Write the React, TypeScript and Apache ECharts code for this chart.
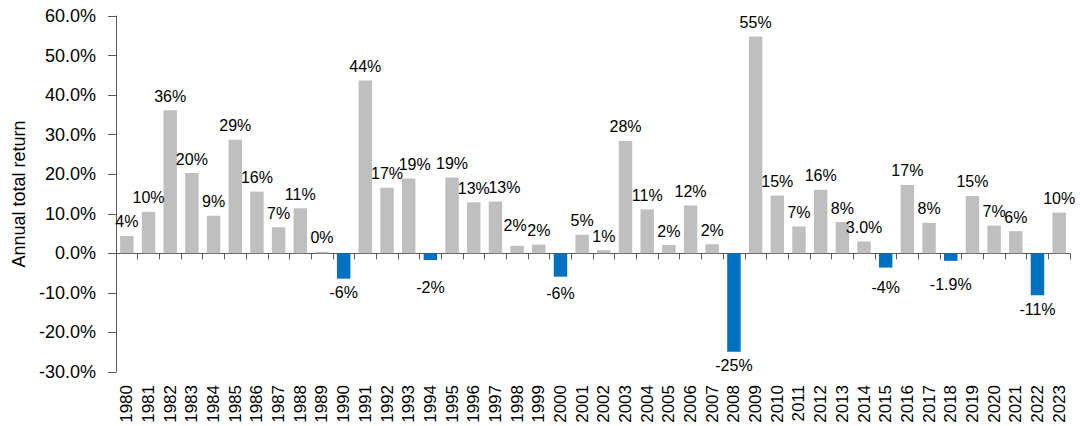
import React, { useEffect, useRef } from "react";
import * as echarts from "echarts";

const years: string[] = [
  "1980", "1981", "1982", "1983", "1984", "1985", "1986", "1987", "1988", "1989",
  "1990", "1991", "1992", "1993", "1994", "1995", "1996", "1997", "1998", "1999",
  "2000", "2001", "2002", "2003", "2004", "2005", "2006", "2007", "2008", "2009",
  "2010", "2011", "2012", "2013", "2014", "2015", "2016", "2017", "2018", "2019",
  "2020", "2021", "2022", "2023",
];

const returns: number[] = [
  4.4, 10.5, 36.2, 20.3, 9.5, 28.7, 15.6, 6.6, 11.4, 0.4,
  -6.4, 43.7, 16.6, 18.9, -1.7, 19.2, 12.9, 13.1, 1.9, 2.2,
  -5.9, 4.7, 0.8, 28.4, 11.1, 2.1, 12.1, 2.3, -24.9, 54.8,
  14.6, 6.8, 16.1, 7.9, 3.0, -3.6, 17.3, 7.7, -1.9, 14.5,
  7.0, 5.6, -10.6, 10.3,
];

const barLabels: string[] = [
  "4%", "10%", "36%", "20%", "9%", "29%", "16%", "7%", "11%", "0%",
  "-6%", "44%", "17%", "19%", "-2%", "19%", "13%", "13%", "2%", "2%",
  "-6%", "5%", "1%", "28%", "11%", "2%", "12%", "2%", "-25%", "55%",
  "15%", "7%", "16%", "8%", "3.0%", "-4%", "17%", "8%", "-1.9%", "15%",
  "7%", "6%", "-11%", "10%",
];

// small manual label nudges [dx, dy] in px, as in the source chart
const labelNudges: Record<string, [number, number]> = {
  "1993": [6, 0],
  "1997": [9, 0],
  "1998": [-2, -6],
  "1994": [0, 13],
  "2015": [0, 6],
  "2018": [0, 10],
  "2000": [0, 3],
};

const yMin = -30;
const yMax = 60;
const yStep = 10;

const FONT = "'Liberation Sans', Arial, sans-serif";
const GRAY = "#BFBFBF";
const BLUE = "#0070C0";
const AXIS = "#595959";

export default function App() {
  const ref = useRef<HTMLDivElement>(null);

  useEffect(() => {
    if (!ref.current) return;
    const chart = echarts.init(ref.current, undefined, { renderer: "svg" });
    const data = returns.map((v, i) => {
      const neg = v < 0;
      const nudge = labelNudges[years[i]] || [0, 0];
      return {
        value: v,
        itemStyle: { color: neg ? BLUE : GRAY },
        label: {
          show: true,
          position: neg ? "bottom" : "top",
          distance: 6,
          offset: nudge,
          formatter: () => barLabels[i],
        },
      };
    });
    chart.setOption({
      animation: false,
      textStyle: { fontFamily: FONT },
      grid: { left: 116, right: 10, top: 16, bottom: 54, containLabel: false },
      xAxis: [
        {
          type: "category",
          data: years,
          position: "bottom",
          axisLine: { show: false, onZero: false },
          axisTick: { show: false },
          axisLabel: {
            rotate: 90,
            margin: 13,
            interval: 0,
            fontSize: 17,
            color: "#000",
            fontFamily: FONT,
          },
          splitLine: { show: false },
        },
        {
          type: "category",
          data: years,
          position: "bottom",
          axisLine: { show: true, onZero: true, lineStyle: { color: AXIS, width: 1 } },
          axisTick: { show: true, length: 6, interval: 0, lineStyle: { color: AXIS } },
          axisLabel: { show: false },
          splitLine: { show: false },
        },
      ],
      yAxis: {
        type: "value",
        min: yMin,
        max: yMax,
        interval: yStep,
        name: "Annual total return",
        nameLocation: "middle",
        nameGap: 82,
        nameTextStyle: { fontSize: 18, color: "#000", fontFamily: FONT },
        axisLine: { show: true, lineStyle: { color: AXIS, width: 1 } },
        axisTick: { show: true, length: 8, lineStyle: { color: AXIS } },
        axisLabel: {
          margin: 20,
          fontSize: 18,
          color: "#000",
          fontFamily: FONT,
          formatter: (v: number) => v.toFixed(1) + "%",
        },
        splitLine: { show: false },
      },
      series: [
        {
          type: "bar",
          xAxisIndex: 0,
          yAxisIndex: 0,
          data,
          barWidth: "62%",
          label: { fontSize: 16, color: "#000", fontFamily: FONT },
        },
      ],
    });
    return () => chart.dispose();
  }, []);

  return (
    <div
      ref={ref}
      style={{ position: "fixed", left: 0, top: 0, width: 1080, height: 426, background: "#fff" }}
    />
  );
}
